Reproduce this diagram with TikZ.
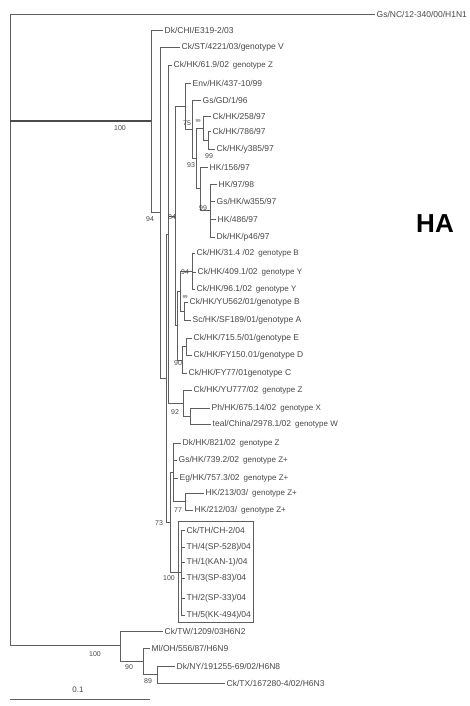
\documentclass[tikz,border=0pt]{standalone}
\usepackage{fontspec}
\setmainfont{Liberation Sans}
\definecolor{treegray}{HTML}{5E5E5E}
\definecolor{labgray}{HTML}{474747}
\newcommand{\gtype}[1]{\hspace{4pt}{\fontsize{8}{9}\selectfont #1}}
\newcommand{\boot}[3]{\node[bootlabel] (#1) at (#2) {#3};}
\tikzset{
  branch/.style={draw=treegray, line width=0.8pt},
  thickbranch/.style={draw=treegray!80!black, line width=1.2pt},
  taxon/.style={anchor=west, inner sep=1.5pt, text=labgray,
    font=\fontsize{8.5}{9}\selectfont},
  bootlabel/.style={inner sep=0pt, text=labgray,
    font=\fontsize{7}{8}\selectfont},
  smallboot/.style={bootlabel, font=\fontsize{4.5}{5}\selectfont}
}
\begin{document}
\begin{tikzpicture}[x=1pt,y=-1pt]
  \useasboundingbox (0,0) rectangle (470,706);
  % inner nodes
  \coordinate (root) at (10,330);
  \coordinate (nA) at (151,121);
  \coordinate (nB) at (160,212.5);
  \coordinate (nC) at (166,378);
  \coordinate (nE) at (168,234);
  \coordinate (n84) at (175,216);
  \coordinate (nK1) at (185,106);
  \coordinate (n75) at (192,129);
  \coordinate (n93) at (196,158);
  \coordinate (n99b) at (203,128);
  \coordinate (n99a) at (208,140);
  \coordinate (nX) at (200,188.5);
  \coordinate (n99c) at (210,210);
  \coordinate (nM) at (177,325.5);
  \coordinate (nT) at (180,291);
  \coordinate (n94b) at (192,271);
  \coordinate (nS) at (184,311);
  \coordinate (n90) at (182,360);
  \coordinate (nED) at (186,346.5);
  \coordinate (nG) at (183,403);
  \coordinate (nPT) at (190,416);
  \coordinate (nF) at (170,522);
  \coordinate (nP) at (173,472);
  \coordinate (n77) at (185,501.5);
  \coordinate (n100) at (181,572.5);
  \coordinate (nH6) at (120,645.5);
  \coordinate (nH90) at (143,661);
  \coordinate (nH89) at (157,674.5);
  % taxa
  \node[taxon] (tGsNC) at (375,14) {Gs/NC/12-340/00/H1N1};
  \node[taxon] (tDkCHI) at (163,30) {Dk/CHI/E319-2/03};
  \node[taxon] (tCkST) at (180,47) {Ck/ST/4221/03/genotype V};
  \node[taxon] (tCk619) at (172,65) {Ck/HK/61.9/02\gtype{genotype Z}};
  \node[taxon] (tEnv) at (191,83) {Env/HK/437-10/99};
  \node[taxon] (tGsGD) at (201,100) {Gs/GD/1/96};
  \node[taxon] (tCk258) at (211,116) {Ck/HK/258/97};
  \node[taxon] (tCk786) at (211,131) {Ck/HK/786/97};
  \node[taxon] (tCky385) at (215,149) {Ck/HK/y385/97};
  \node[taxon] (tHK156) at (208,167) {HK/156/97};
  \node[taxon] (tHK9798) at (217,184) {HK/97/98};
  \node[taxon] (tGsw355) at (215,201) {Gs/HK/w355/97};
  \node[taxon] (tHK486) at (216,219) {HK/486/97};
  \node[taxon] (tDkp46) at (215,237) {Dk/HK/p46/97};
  \node[taxon] (tCk314) at (195,253) {Ck/HK/31.4 /02\gtype{genotype B}};
  \node[taxon] (tCk4091) at (196,272) {Ck/HK/409.1/02\gtype{genotype Y}};
  \node[taxon] (tCk961) at (195,289) {Ck/HK/96.1/02\gtype{genotype Y}};
  \node[taxon] (tCkYU562) at (188,302) {Ck/HK/YU562/01/genotype B};
  \node[taxon] (tScSF189) at (191,320) {Sc/HK/SF189/01/genotype A};
  \node[taxon] (tCk7155) at (192,338) {Ck/HK/715.5/01/genotype E};
  \node[taxon] (tCkFY150) at (192,355) {Ck/HK/FY150.01/genotype D};
  \node[taxon] (tCkFY77) at (187,373) {Ck/HK/FY77/01genotype C};
  \node[taxon] (tCkYU777) at (192,390) {Ck/HK/YU777/02\gtype{genotype Z}};
  \node[taxon] (tPh675) at (210,408) {Ph/HK/675.14/02\gtype{genotype X}};
  \node[taxon] (tTeal) at (211,424) {teal/China/2978.1/02\gtype{genotype W}};
  \node[taxon] (tDk821) at (181,443) {Dk/HK/821/02\gtype{genotype Z}};
  \node[taxon] (tGs7392) at (177,460) {Gs/HK/739.2/02\gtype{genotype Z+}};
  \node[taxon] (tEg7573) at (178,478) {Eg/HK/757.3/02\gtype{genotype Z+}};
  \node[taxon] (tHK213) at (204,493) {HK/213/03/\gtype{genotype Z+}};
  \node[taxon] (tHK212) at (193,510) {HK/212/03/\gtype{genotype Z+}};
  \node[taxon] (tCkTH) at (185,530) {Ck/TH/CH-2/04};
  \node[taxon] (tTH4) at (185,547) {TH/4(SP-528)/04};
  \node[taxon] (tTH1) at (185,562) {TH/1(KAN-1)/04};
  \node[taxon] (tTH3) at (185,578) {TH/3(SP-83)/04};
  \node[taxon] (tTH2) at (185,598) {TH/2(SP-33)/04};
  \node[taxon] (tTH5) at (185,615) {TH/5(KK-494)/04};
  \node[taxon] (tCkTW) at (163,631) {Ck/TW/1209/03H6N2};
  \node[taxon] (tMlOH) at (150,648) {Ml/OH/556/87/H6N9};
  \node[taxon] (tDkNY) at (175,666) {Dk/NY/191255-69/02/H6N8};
  \node[taxon] (tCkTX) at (225,683) {Ck/TX/167280-4/02/H6N3};
  % branches
  \foreach \p/\c in {root/tGsNC.west, root/nA, root/nH6,
      nA/tDkCHI.west, nA/nB, nB/tCkST.west, nB/nC, nC/nE, nC/nF,
      nE/tCk619.west, nE/n84, nE/nG, n84/nK1, n84/nM,
      nK1/tEnv.west, nK1/n75, n75/tGsGD.west, n75/n93,
      n93/n99b, n93/nX, n99b/tCk258.west, n99b/n99a,
      n99a/tCk786.west, n99a/tCky385.west,
      nX/tHK156.west, nX/n99c, n99c/tHK9798.west, n99c/tGsw355.west,
      n99c/tHK486.west, n99c/tDkp46.west,
      nM/nT, nM/n90, nT/n94b, nT/nS,
      n94b/tCk314.west, n94b/tCk4091.west, n94b/tCk961.west,
      nS/tCkYU562.west, nS/tScSF189.west,
      n90/nED, n90/tCkFY77.west, nED/tCk7155.west, nED/tCkFY150.west,
      nG/tCkYU777.west, nG/nPT, nPT/tPh675.west, nPT/tTeal.west,
      nF/nP, nF/n100, nP/tDk821.west, nP/tGs7392.west, nP/tEg7573.west,
      nP/n77, n77/tHK213.west, n77/tHK212.west,
      n100/tCkTH.west, n100/tTH4.west, n100/tTH1.west,
      n100/tTH3.west, n100/tTH2.west, n100/tTH5.west,
      nH6/tCkTW.west, nH6/nH90, nH90/tMlOH.west, nH90/nH89,
      nH89/tDkNY.west, nH89/tCkTX.west}
    \draw[branch] (\p) |- (\c);
  \draw[thickbranch] (root |- nA) -- (nA);
  % bootstrap values
  \boot{b100a}{120,128}{100}
  \boot{b94a}{150,219}{94}
  \boot{b84}{172,217}{84}
  \boot{b75}{187,123}{75}
  \node[smallboot] (b99b) at (198,121) {99};
  \boot{b93}{191,165}{93}
  \boot{b99a}{209,156}{99}
  \boot{b99c}{203,208}{99}
  \boot{b94b}{185,272}{94}
  \node[smallboot] (b99s) at (185,297) {99};
  \boot{b90a}{178,363}{90}
  \boot{b92}{175,412}{92}
  \boot{b77}{178,510}{77}
  \boot{b73}{159,523}{73}
  \boot{b100b}{169,578}{100}
  \boot{b100c}{95,654}{100}
  \boot{b90b}{129,667}{90}
  \boot{b89}{148,681}{89}
  % Thai box
  \draw[treegray, line width=0.6pt] (178,521) rectangle (253,622);
  % scale bar
  \coordinate (sL) at (10,699);
  \coordinate (sR) at (150,699);
  \draw[branch] (sL) -- (sR);
  \node[bootlabel, font=\fontsize{8}{9}\selectfont] (scalelab) at (78,690) {0.1};
  \node[font=\fontsize{26}{28}\selectfont\bfseries] (halab) at (435,224) {HA};
\end{tikzpicture}
\end{document}
